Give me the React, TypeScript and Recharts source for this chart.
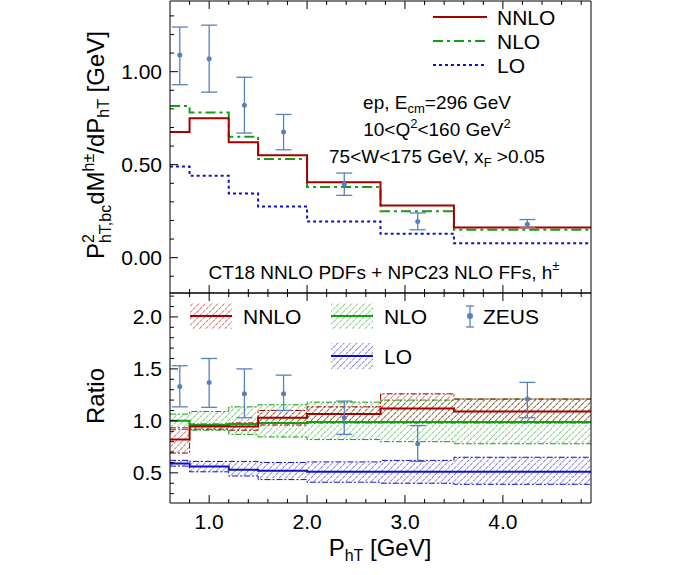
import { ComposedChart, Line, Area, Scatter, ErrorBar, XAxis, YAxis } from "recharts";

// bin edges (last one repeated to close the step)
const edges = [0.6, 0.8, 1.2, 1.5, 2.0, 2.75, 3.5, 4.9];

// top panel: cross sections per bin
const nnlo = [0.675, 0.75, 0.62, 0.55, 0.405, 0.28, 0.162];
const nlo = [0.815, 0.78, 0.65, 0.53, 0.38, 0.25, 0.15];
const lo = [0.49, 0.44, 0.345, 0.275, 0.195, 0.128, 0.077];

// ZEUS data
const zeusX = [0.7, 1.0, 1.36, 1.76, 2.38, 3.13, 4.25];
const zeusY = [1.09, 1.07, 0.82, 0.675, 0.395, 0.195, 0.18];
const zeusLo = [0.93, 0.89, 0.67, 0.58, 0.335, 0.15, 0.162];
const zeusHi = [1.24, 1.25, 0.97, 0.77, 0.455, 0.24, 0.205];

// ratio panel
const rNnlo = [0.82, 0.945, 0.945, 1.03, 1.065, 1.12, 1.09];
const rNnloLo = [0.69, 0.92, 0.91, 0.96, 0.98, 0.98, 0.98];
const rNnloHi = [0.92, 0.97, 0.98, 1.1, 1.135, 1.26, 1.21];
const rNlo = [1.0, 0.96, 0.97, 0.98, 0.99, 0.99, 0.99];
const rNloLo = [0.935, 0.91, 0.87, 0.845, 0.82, 0.8, 0.78];
const rNloHi = [1.065, 1.09, 1.135, 1.155, 1.18, 1.2, 1.21];
const rLo = [0.59, 0.56, 0.53, 0.52, 0.51, 0.51, 0.51];
const rLoLo = [0.565, 0.51, 0.47, 0.435, 0.41, 0.4, 0.39];
const rLoHi = [0.62, 0.61, 0.61, 0.6, 0.605, 0.62, 0.65];
const rZeus = [1.33, 1.37, 1.26, 1.26, 1.03, 0.78, 1.21];
const rZeusLo = [1.135, 1.13, 1.03, 1.1, 0.87, 0.61, 1.03];
const rZeusHi = [1.53, 1.6, 1.5, 1.44, 1.19, 0.955, 1.37];

const xMajor = [1, 2, 3, 4];
const xMinor = [0.8, 1.2, 1.4, 1.6, 1.8, 2.2, 2.4, 2.6, 2.8, 3.2, 3.4, 3.6, 3.8, 4.2, 4.4, 4.6, 4.8];
const yTopMajor = [0, 0.5, 1.0];
const yTopMinor = [-0.1, 0.1, 0.2, 0.3, 0.4, 0.6, 0.7, 0.8, 0.9, 1.1, 1.2, 1.3];
const yBotMajor = [0.5, 1.0, 1.5, 2.0];
const yBotMinor = [0.3, 0.4, 0.6, 0.7, 0.8, 0.9, 1.1, 1.2, 1.3, 1.4, 1.6, 1.7, 1.8, 1.9, 2.1, 2.2];

const C_NNLO = "#a50000";
const C_NLO = "#10a010";
const C_LO = "#1010c8";
const C_Z = "#5a80bb";
const FONT = "Liberation Sans, Arial, sans-serif";

const L = 170;
const R = 591;

const stepRows = (keys: Record<string, number[]>) =>
  edges.map((x, i) => {
    const row: any = { x };
    Object.entries(keys).forEach(([k, v]) => {
      row[k] = v[Math.min(i, v.length - 1)];
    });
    return row;
  });

const topRows = stepRows({ nnlo, nlo, lo });
const botRows = stepRows({ rNnlo, rNnloLo, rNnloHi, rNlo, rNloLo, rNloHi, rLo, rLoLo, rLoHi });
const zeusTop = zeusX.map((x, i) => ({ x, y: zeusY[i], err: [zeusY[i] - zeusLo[i], zeusHi[i] - zeusY[i]] }));
const zeusBot = zeusX.map((x, i) => ({ x, y: rZeus[i], err: [rZeus[i] - rZeusLo[i], rZeusHi[i] - rZeus[i]] }));

const fmt2 = (v: number) => v.toFixed(2);
const fmt1 = (v: number) => v.toFixed(1);

function makeTick(side: "left" | "right" | "top" | "bottom", T: number, B: number, majors: number[], fmt?: (v: number) => string) {
  return (props: any) => {
    const c = props.payload.coordinate;
    const v = props.payload.value;
    const major = majors.some((m) => Math.abs(m - v) < 1e-6);
    const len = major ? 8 : 4;
    let line;
    if (side === "left") line = <line x1={L} x2={L + len} y1={c} y2={c} stroke="#000" />;
    else if (side === "right") line = <line x1={R} x2={R - len} y1={c} y2={c} stroke="#000" />;
    else if (side === "top") line = <line x1={c} x2={c} y1={T} y2={T + len} stroke="#000" />;
    else line = <line x1={c} x2={c} y1={B} y2={B - len} stroke="#000" />;
    let label = null;
    if (major && fmt) {
      if (side === "left")
        label = <text x={L - 8} y={c + 7} textAnchor="end" fontSize={21} fontFamily={FONT}>{fmt(v)}</text>;
      else if (side === "bottom")
        label = <text x={c} y={B + 26} textAnchor="middle" fontSize={21} fontFamily={FONT}>{fmt(v)}</text>;
    }
    return (
      <g>
        {line}
        {label}
      </g>
    );
  };
}

function Hatch({ id, color }: { id: string; color: string }) {
  return (
    <pattern id={id} width="4.5" height="4.5" patternUnits="userSpaceOnUse" patternTransform="rotate(45)">
      <line x1="0" y1="0" x2="0" y2="4.5" stroke={color} strokeWidth="1" strokeDasharray="2 1" />
    </pattern>
  );
}

const axisProps = { tickLine: false, axisLine: { stroke: "#000" }, interval: 0 as const };

function TopChart() {
  const T = 1;
  const B = 293;
  const W = 700;
  const H = 300;
  return (
    <ComposedChart width={W} height={H} data={topRows} margin={{ top: T - 1, right: W - R - 1, left: L - 1, bottom: H - B - 1 }}>
      <XAxis xAxisId="b" dataKey="x" type="number" domain={[0.6, 4.9]} ticks={[...xMajor, ...xMinor]} height={1} {...axisProps} tick={makeTick("bottom", T, B, xMajor)} />
      <XAxis xAxisId="t" orientation="top" dataKey="x" type="number" domain={[0.6, 4.9]} ticks={[...xMajor, ...xMinor]} height={1} {...axisProps} tick={makeTick("top", T, B, xMajor)} />
      <YAxis yAxisId="l" type="number" domain={[-0.19, 1.38]} ticks={[...yTopMajor, ...yTopMinor]} width={1} {...axisProps} tick={makeTick("left", T, B, yTopMajor, fmt2)} />
      <YAxis yAxisId="r" orientation="right" type="number" domain={[-0.19, 1.38]} ticks={[...yTopMajor, ...yTopMinor]} width={1} {...axisProps} tick={makeTick("right", T, B, yTopMajor)} />
      <Line xAxisId="b" yAxisId="l" type="stepAfter" dataKey="lo" stroke={C_LO} strokeWidth={2} strokeDasharray="3 3" dot={false} isAnimationActive={false} />
      <Line xAxisId="b" yAxisId="l" type="stepAfter" dataKey="nlo" stroke={C_NLO} strokeWidth={2} strokeDasharray="10 4 3 4" dot={false} isAnimationActive={false} />
      <Line xAxisId="b" yAxisId="l" type="stepAfter" dataKey="nnlo" stroke={C_NNLO} strokeWidth={2} dot={false} isAnimationActive={false} />
      <Scatter xAxisId="b" yAxisId="l" data={zeusTop} dataKey="y" fill={C_Z} shape={(p: any) => <circle cx={p.cx} cy={p.cy} r={2.5} fill={C_Z} />} isAnimationActive={false}>
        <ErrorBar dataKey="err" direction="y" width={8} stroke={C_Z} strokeWidth={1.3} />
      </Scatter>
      <g fontFamily={FONT} fontSize={21}>
        <line x1={433} x2={487} y1={17} y2={17} stroke={C_NNLO} strokeWidth={2} />
        <text x={497} y={25}>NNLO</text>
        <line x1={433} x2={487} y1={41} y2={41} stroke={C_NLO} strokeWidth={2} strokeDasharray="10 4 3 4" />
        <text x={497} y={49}>NLO</text>
        <line x1={433} x2={487} y1={65} y2={65} stroke={C_LO} strokeWidth={2} strokeDasharray="3 3" />
        <text x={497} y={73}>LO</text>
      </g>
      <g fontFamily={FONT} fontSize={19} textAnchor="middle">
        <text x={437} y={109}>ep,  E<tspan fontSize={13} dy={4}>cm</tspan><tspan dy={-4}>=296 GeV</tspan></text>
        <text x={437} y={136}>10&lt;Q<tspan fontSize={13} dy={-8}>2</tspan><tspan dy={8}>&lt;160 GeV</tspan><tspan fontSize={13} dy={-8}>2</tspan></text>
        <text x={437} y={163}>75&lt;W&lt;175 GeV, x<tspan fontSize={13} dy={4}>F</tspan><tspan dy={-4}> &gt;0.05</tspan></text>
        <text x={384} y={279}>CT18 NNLO PDFs + NPC23 NLO FFs,  h<tspan fontSize={13} dy={-9}>±</tspan></text>
      </g>
      <text transform="translate(104,145) rotate(-90)" textAnchor="middle" fontFamily={FONT} fontSize={24}>
        P<tspan fontSize={16} dy={-10}>2</tspan><tspan fontSize={16} dx={-9} dy={17}>hT,bc</tspan><tspan dy={-7}>dM</tspan><tspan fontSize={16} dy={-10}>h±</tspan><tspan dy={10}>/dP</tspan><tspan fontSize={16} dy={5}>hT</tspan><tspan dy={-5}> [GeV]</tspan>
      </text>
    </ComposedChart>
  );
}

function BottomChart() {
  const T = 1;
  const B = 211;
  const W = 700;
  const H = 283;
  const band = (lo: string, hi: string) => (d: any) => [d[lo], d[hi]];
  return (
    <ComposedChart width={W} height={H} data={botRows} margin={{ top: T - 1, right: W - R - 1, left: L - 1, bottom: H - B - 1 }}>
      <defs>
        <Hatch id="hR" color={C_NNLO} />
        <Hatch id="hG" color={C_NLO} />
        <Hatch id="hB" color={C_LO} />
      </defs>
      <XAxis xAxisId="b" dataKey="x" type="number" domain={[0.6, 4.9]} ticks={[...xMajor, ...xMinor]} height={1} {...axisProps} tick={makeTick("bottom", T, B, xMajor, fmt1)} />
      <XAxis xAxisId="t" orientation="top" dataKey="x" type="number" domain={[0.6, 4.9]} ticks={[...xMajor, ...xMinor]} height={1} {...axisProps} tick={makeTick("top", T, B, xMajor)} />
      <YAxis yAxisId="l" type="number" domain={[0.21, 2.23]} ticks={[...yBotMajor, ...yBotMinor]} width={1} {...axisProps} tick={makeTick("left", T, B, yBotMajor, fmt1)} />
      <YAxis yAxisId="r" orientation="right" type="number" domain={[0.21, 2.23]} ticks={[...yBotMajor, ...yBotMinor]} width={1} {...axisProps} tick={makeTick("right", T, B, yBotMajor)} />
      <Area xAxisId="b" yAxisId="l" type="stepAfter" dataKey={band("rLoLo", "rLoHi")} fill="url(#hB)" fillOpacity={1} stroke={C_LO} strokeWidth={1} strokeDasharray="6 2 2 2" isAnimationActive={false} />
      <Area xAxisId="b" yAxisId="l" type="stepAfter" dataKey={band("rNloLo", "rNloHi")} fill="url(#hG)" fillOpacity={1} stroke={C_NLO} strokeWidth={1} strokeDasharray="6 2 2 2" isAnimationActive={false} />
      <Area xAxisId="b" yAxisId="l" type="stepAfter" dataKey={band("rNnloLo", "rNnloHi")} fill="url(#hR)" fillOpacity={1} stroke={C_NNLO} strokeWidth={1} strokeDasharray="6 2 2 2" isAnimationActive={false} />
      <Line xAxisId="b" yAxisId="l" type="stepAfter" dataKey="rLo" stroke={C_LO} strokeWidth={2} dot={false} isAnimationActive={false} />
      <Line xAxisId="b" yAxisId="l" type="stepAfter" dataKey="rNlo" stroke={C_NLO} strokeWidth={2} dot={false} isAnimationActive={false} />
      <Line xAxisId="b" yAxisId="l" type="stepAfter" dataKey="rNnlo" stroke={C_NNLO} strokeWidth={2} dot={false} isAnimationActive={false} />
      <Scatter xAxisId="b" yAxisId="l" data={zeusBot} dataKey="y" fill={C_Z} shape={(p: any) => <circle cx={p.cx} cy={p.cy} r={2.5} fill={C_Z} />} isAnimationActive={false}>
        <ErrorBar dataKey="err" direction="y" width={8} stroke={C_Z} strokeWidth={1.3} />
      </Scatter>
      <g fontFamily={FONT} fontSize={21}>
        <rect x={190} y={11} width={42} height={26} fill="url(#hR)" />
        <line x1={190} x2={232} y1={24} y2={24} stroke={C_NNLO} strokeWidth={2} />
        <text x={243} y={32}>NNLO</text>
        <rect x={331} y={11} width={42} height={26} fill="url(#hG)" />
        <line x1={331} x2={373} y1={24} y2={24} stroke={C_NLO} strokeWidth={2} />
        <text x={384} y={32}>NLO</text>
        <rect x={331} y={51} width={42} height={26} fill="url(#hB)" />
        <line x1={331} x2={373} y1={64} y2={64} stroke={C_LO} strokeWidth={2} />
        <text x={384} y={72}>LO</text>
        <line x1={470} x2={470} y1={14} y2={35} stroke={C_Z} strokeWidth={1.3} />
        <line x1={466} x2={474} y1={14} y2={14} stroke={C_Z} strokeWidth={1.3} />
        <line x1={466} x2={474} y1={35} y2={35} stroke={C_Z} strokeWidth={1.3} />
        <circle cx={470} cy={24} r={3} fill={C_Z} />
        <text x={483} y={32}>ZEUS</text>
      </g>
      <text transform="translate(104,104) rotate(-90)" textAnchor="middle" fontFamily={FONT} fontSize={24}>Ratio</text>
      <text x={380} y={264} textAnchor="middle" fontFamily={FONT} fontSize={24}>
        P<tspan fontSize={16} dy={5}>hT</tspan><tspan dy={-5}> [GeV]</tspan>
      </text>
    </ComposedChart>
  );
}

export default function App() {
  return (
    <div style={{ position: "absolute", left: 0, top: 0, width: 700, height: 575, background: "#fff" }}>
      <div style={{ position: "absolute", left: 0, top: 0 }}>
        <TopChart />
      </div>
      <div style={{ position: "absolute", left: 0, top: 292 }}>
        <BottomChart />
      </div>
    </div>
  );
}
